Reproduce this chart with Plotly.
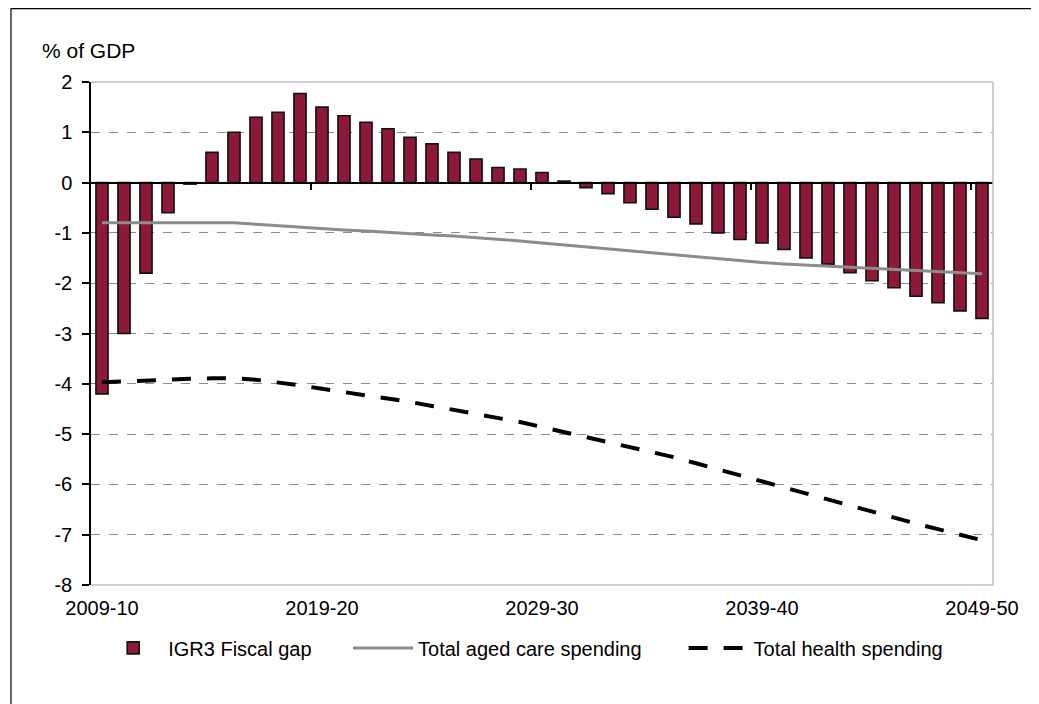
import plotly.graph_objects as go

years = list(range(2009, 2050))
categories = [f"{y}-{str(y + 1)[-2:]}" for y in years]

fiscal_gap = [-4.2, -3.0, -1.8, -0.6, -0.03, 0.6, 1.0, 1.3, 1.4, 1.77,
              1.5, 1.33, 1.2, 1.07, 0.9, 0.77, 0.6, 0.47, 0.3, 0.27,
              0.2, 0.03, -0.1, -0.22, -0.4, -0.53, -0.69, -0.82, -1.0, -1.13,
              -1.2, -1.33, -1.5, -1.62, -1.79, -1.95, -2.09, -2.26, -2.39, -2.55,
              -2.7]

aged_care = [-0.8, -0.8, -0.8, -0.8, -0.8, -0.8, -0.8, -0.83, -0.86, -0.89,
             -0.91, -0.94, -0.96, -0.99, -1.01, -1.04, -1.06, -1.09, -1.12, -1.16,
             -1.2, -1.24, -1.28, -1.31, -1.35, -1.39, -1.43, -1.47, -1.51, -1.55,
             -1.59, -1.62, -1.64, -1.66, -1.68, -1.7, -1.72, -1.74, -1.76, -1.78,
             -1.81]

health = [-3.97, -3.95, -3.93, -3.92, -3.9, -3.89, -3.89, -3.92, -3.97, -4.03,
          -4.1, -4.16, -4.22, -4.29, -4.36, -4.44, -4.52, -4.59, -4.67, -4.76,
          -4.86, -4.96, -5.05, -5.15, -5.25, -5.35, -5.46, -5.58, -5.7, -5.83,
          -5.95, -6.07, -6.19, -6.31, -6.43, -6.55, -6.67, -6.78, -6.89, -7.0,
          -7.11]

label_idx = [0, 10, 20, 30, 40]
tick_labels = [categories[i] for i in label_idx]
y_ticks = list(range(-8, 3))
y_tick_text = [str(v) for v in y_ticks]

FONT = "Liberation Sans"
FS = 20
idx = list(range(len(categories)))

fig = go.Figure()
fig.add_trace(go.Bar(
    x=idx, y=fiscal_gap, name="IGR3 Fiscal gap", width=0.55,
    marker=dict(color="#8E1838", line=dict(color="#111111", width=1.6)),
    hovertext=categories, legend="legend",
))
fig.add_trace(go.Scatter(
    x=idx, y=aged_care, name="Total aged care spending", mode="lines",
    line=dict(color="#8C8C8C", width=3), xaxis="x2", hovertext=categories,
    legend="legend2",
))
fig.add_trace(go.Scatter(
    x=idx, y=health, name="Total health spending", mode="lines",
    line=dict(color="#000000", width=4, dash="19px,16px"), hovertext=categories,
    legend="legend3",
))

leg_common = dict(orientation="h", y=-0.125, yanchor="middle", xanchor="left",
                  font=dict(size=FS, family=FONT), bgcolor="rgba(0,0,0,0)")

fig.update_layout(
    width=1039, height=704,
    margin=dict(l=83, r=54, t=74, b=127),
    paper_bgcolor="white", plot_bgcolor="white",
    font=dict(family=FONT, size=FS, color="#000000"),
    showlegend=True,
    legend=dict(x=0.008, itemwidth=60, **leg_common),
    legend2=dict(x=0.285, itemwidth=60, **leg_common),
    legend3=dict(x=0.657, itemwidth=60, **leg_common),
    xaxis=dict(range=[-0.5, 40.5], tickmode="array", tickvals=label_idx,
               ticktext=tick_labels, ticks="outside", ticklen=5,
               tickcolor="rgba(0,0,0,0)", showgrid=False, zeroline=False,
               showline=False, tickfont=dict(size=FS)),
    xaxis2=dict(range=[-0.5, 40.5], overlaying="x", anchor="free", position=0.8,
                side="bottom", tickmode="array", tickvals=[9.5, 19.5, 29.5, 39.5],
                ticks="outside", ticklen=7, tickwidth=1.5, tickcolor="#000000",
                showticklabels=False, showline=True, linecolor="#000000",
                linewidth=1.5, showgrid=False, zeroline=False),
    yaxis=dict(range=[-8, 2], tickmode="array", tickvals=y_ticks, ticktext=y_tick_text,
               ticks="outside", ticklen=7, tickwidth=1.5, tickcolor="#000000",
               showline=True, linecolor="#000000", linewidth=1.5,
               showgrid=True, gridcolor="#8C8C8C", griddash="dash", gridwidth=1,
               zeroline=False, ticklabelstandoff=6, tickfont=dict(size=FS)),
    annotations=[dict(text="% of GDP", xref="paper", yref="paper", x=-0.057, y=1.062,
                      xanchor="left", yanchor="middle", showarrow=False,
                      font=dict(size=FS + 1, family=FONT))],
    shapes=[
        dict(type="line", xref="paper", yref="paper", x0=0, x1=1, y0=1, y1=1,
             line=dict(color="#BFBFBF", width=1.5), layer="above"),
        dict(type="line", xref="paper", yref="paper", x0=0, x1=1, y0=0, y1=0,
             line=dict(color="#BFBFBF", width=1.5), layer="above"),
        dict(type="line", xref="paper", yref="paper", x0=1, x1=1, y0=0, y1=1,
             line=dict(color="#BFBFBF", width=1.5), layer="above"),
        dict(type="line", xref="paper", yref="paper", x0=-0.0887, x1=1.2, y0=1.1459, y1=1.1459,
             line=dict(color="#000000", width=1.2), layer="above"),
        dict(type="line", xref="paper", yref="paper", x0=-0.0887, x1=-0.0887, y0=1.1459, y1=-0.4,
             line=dict(color="#000000", width=1.2), layer="above"),
    ],
)

fig.write_html("out.html")
